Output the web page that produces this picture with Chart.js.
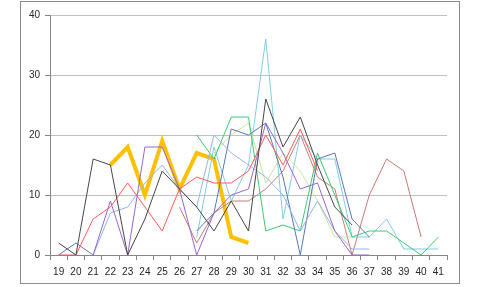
<!DOCTYPE html>
<html>
<head>
<meta charset="utf-8">
<script src="https://cdn.jsdelivr.net/npm/chart.js@4/dist/chart.umd.min.js"></script>
<style>
  html, body { margin: 0; padding: 0; background: #fff; }
  #wrap { width: 480px; height: 287px; }
</style>
</head>
<body>
<div id="wrap"><canvas id="c" width="480" height="287"></canvas></div>
<script>
// categories (x axis)
const labels = ['19','20','21','22','23','24','25','26','27','28','29','30','31','32','33','34','35','36','37','38','39','40','41'];
const yTicks = [0, 10, 20, 30, 40];

// series values, one per category, null = no point
const _ = null;
const blackVals  = [2, 0, 16, 15, 0, 6, 14, 11, 8, 4, 9, 4, 26, 18, 23, 15, 8, 5, _, _, _, _, _];
const redVals    = [0, 0, 6, 8, 12, 8, 4, 11, 13, 12, 12, 14, 20, 15, 21, 14, _, _, _, _, _, _, _];
const purpleVals = [_, _, 0, 9, 0, 18, 18, 11, 0, 7, 10, 11, 22, 17, 11, 12, 4, 0, 0, _, _, _, _];
const lightBlueVals = [_, _, 0, 7, 8, 12, 15, 11, 8, 20, 17, 15, 13, 10, 4, 9, 4, 1, 1, _, _, _, _];
const slateVals  = [0, 2, 0, _, _, _, _, _, 4, 7, 21, 20, 22, 13, 0, 16, 17, 6, 3, _, _, _, _];
const greenVals  = [_, _, _, _, _, _, _, _, 20, 16, 23, 23, 4, 5, 4, 17, 10, 3, 4, 4, 2, 0, 3];
const lightGreenVals = [_, _, _, _, _, _, _, _, _, 17, 20, 22, 12, 17, 14, 9, 3, 3, _, _, _, _, _];
const cyanVals   = [_, _, _, _, _, _, _, _, 3, 18, 9, 15, 36, 6, 20, 16, 16, 3, 3, 6, 1, 1, 1];
const roseVals   = [_, _, _, _, _, _, _, 8, 2, 7, 9, 9, 11, 14, 20, 13, 11, 0, 10, 16, 14, 3, _];
const orangeVals = [_, _, _, 15, 18, 10, 19, 11, 17, 16, 3, 2, _, _, _, _, _, _, _, _, _, _, _];

function line(data, color, width) {
  return {
    data: data,
    borderColor: color,
    backgroundColor: color,
    borderWidth: width || 1,
    pointRadius: 0,
    tension: 0,
    spanGaps: false,
    fill: false
  };
}

// outer frame round the chart area
const framePlugin = {
  id: 'frame',
  afterDraw(chart) {
    const ctx = chart.ctx;
    ctx.save();
    ctx.strokeStyle = '#8c8c8c';
    ctx.lineWidth = 1;
    ctx.strokeRect(20.5, 1.5, 439, 282);
    ctx.restore();
  }
};

const tickFont = { family: 'Liberation Sans', size: 10 };

new Chart(document.getElementById('c').getContext('2d'), {
  type: 'line',
  data: {
    labels: labels,
    datasets: [
      line(blackVals, '#474747'),
      line(redVals, '#ff5a5a'),
      line(purpleVals, '#9966cc'),
      line(lightBlueVals, '#94b6e6'),
      line(slateVals, '#5877b8'),
      line(greenVals, '#3ccb72'),
      line(lightGreenVals, '#c4e79c'),
      line(cyanVals, '#80cde2'),
      line(roseVals, '#c97a78'),
      line(orangeVals, '#ffc000', 4)
    ]
  },
  options: {
    responsive: false,
    animation: false,
    layout: { padding: { left: 20, right: 33, top: 15, bottom: 4 } },
    plugins: { legend: { display: false }, tooltip: { enabled: false } },
    scales: {
      x: {
        offset: true,
        grid: { offset: true, drawOnChartArea: false, drawTicks: true, tickLength: 5, color: '#868686' },
        border: { color: '#868686' },
        ticks: { color: '#262626', font: tickFont, padding: 6, maxRotation: 0, autoSkip: false },
        afterFit: s => { s.height = 28; }
      },
      y: {
        min: 0,
        max: 40,
        afterBuildTicks: s => { s.ticks = yTicks.map(v => ({ value: v })); },
        grid: { color: '#c0c0c0', tickLength: 5, tickColor: '#868686' },
        border: { color: '#868686' },
        ticks: { color: '#262626', font: tickFont, padding: 5 },
        afterFit: s => { s.width = 30; }
      }
    }
  },
  plugins: [framePlugin]
});
</script>
</body>
</html>
